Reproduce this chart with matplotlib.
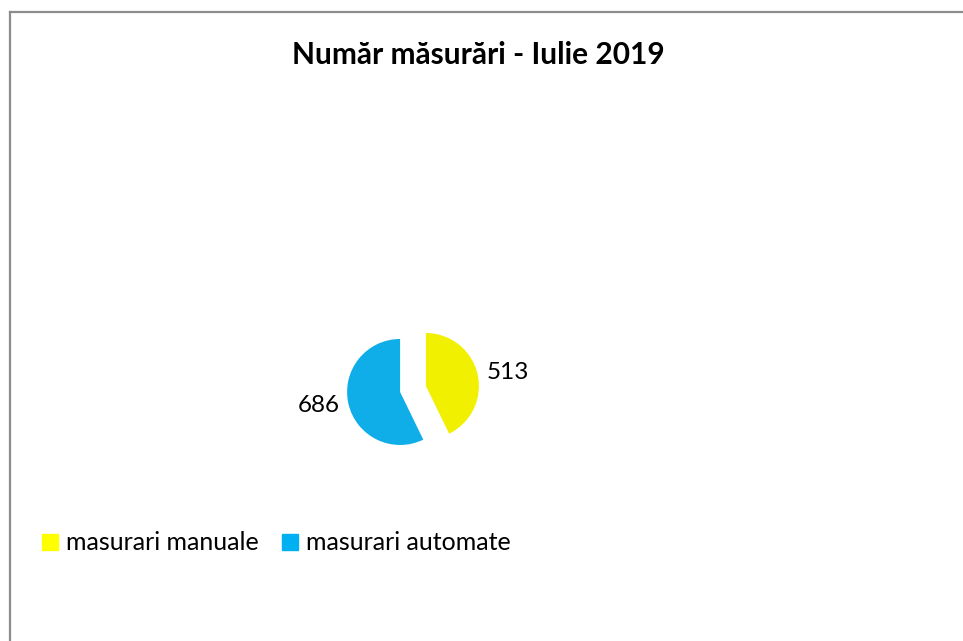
import matplotlib
matplotlib.use("Agg")
import matplotlib.pyplot as plt
from matplotlib.lines import Line2D

categories = ["masurari manuale", "masurari automate"]
values = [513, 686]
slice_colors = ["#F0F000", "#10AEE8"]
legend_colors = ["#FFFF00", "#00B0F0"]
title = "Număr măsurări - Iulie 2019"

plt.rcParams['font.family'] = ['Lato', 'DejaVu Sans']

W, H = 963, 641
fig = plt.figure(figsize=(W / 100, H / 100), dpi=100)
fig.patch.set_facecolor("white")

# frame lines (chart area border, cut off at right/bottom)
fig.add_artist(Line2D([9.5 / W, 9.5 / W], [-0.1, 1 - 11.5 / H], transform=fig.transFigure,
                      color="#8C8C8C", lw=1.6))
fig.add_artist(Line2D([9.5 / W, 1.1], [1 - 11.5 / H, 1 - 11.5 / H], transform=fig.transFigure,
                      color="#8C8C8C", lw=1.6))

fig.text(478 / W, 1 - 55 / H, title, ha="center", va="center",
         fontsize=21.5, fontweight="bold", color="black")

# pie axes
S = 159
cx, cy = 413, 389
ax = fig.add_axes([(cx - S / 2) / W, (H - cy - S / 2) / H, S / W, S / H])
wedges, texts = ax.pie(values, labels=[str(v) for v in values], colors=slice_colors,
                       startangle=90, counterclock=False, explode=[0.25, 0.25],
                       labeldistance=1.17, textprops=dict(fontsize=17.5, color="black"),
                       wedgeprops=dict(linewidth=0))
for w in wedges:
    w.set_edgecolor("none")
ax.set_xlim(-1.5, 1.5)
ax.set_ylim(-1.5, 1.5)
ax.set_aspect("equal")
ax.axis("off")

handles = [Line2D([], [], marker="s", linestyle="none", markersize=11,
                  markerfacecolor=c, markeredgecolor=c) for c in legend_colors]
fig.legend(handles, categories, loc="center left", bbox_to_anchor=(41 / W, 1 - 543 / H),
           ncol=2, frameon=False, fontsize=18, handlelength=0.7, handletextpad=0.3,
           columnspacing=0.9, borderpad=0, borderaxespad=0)

fig.savefig("out.png", dpi=100)
